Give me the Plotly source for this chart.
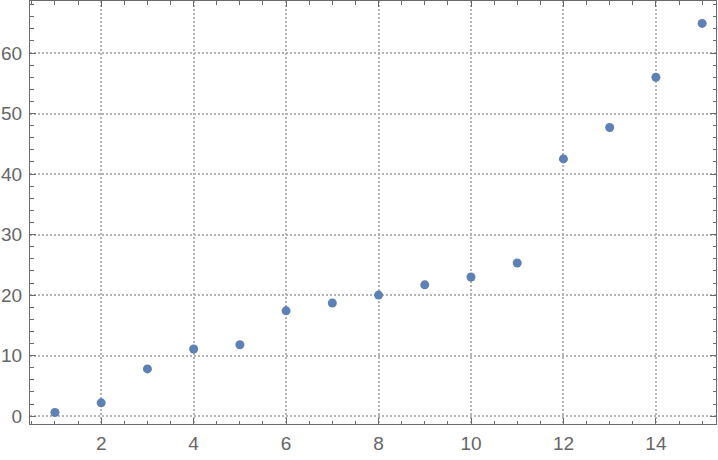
import plotly.graph_objects as go

x_values = list(range(1, 16))
y_values = [0.6, 2.2, 7.8, 11.1, 11.8, 17.4, 18.7, 20.0, 21.7, 23.0, 25.3, 42.5, 47.7, 56.0, 64.9]

frame = "#6b6b6b"
grid = "#b4b4b4"

fig = go.Figure(go.Scatter(
    x=x_values, y=y_values, mode="markers",
    marker=dict(color="#5e81b5", size=9, line=dict(width=0)),
))

common = dict(
    showline=True, linecolor=frame, linewidth=1, mirror="ticks",
    ticks="inside", ticklen=6, tickwidth=1, tickcolor=frame,
    showgrid=True, gridcolor=grid, gridwidth=1.6, griddash="2px,2px",
    zeroline=False, automargin=False,
    tickfont=dict(family="Liberation Sans, Arial, sans-serif", size=19, color="#666666"),
)

fig.update_xaxes(range=[0.46, 15.3], tick0=0, dtick=2, ticklabelstandoff=2,
                 minor=dict(dtick=0.5, ticks="inside", ticklen=3.5, tickcolor=frame, showgrid=False),
                 **common)
fig.update_yaxes(range=[-1.3, 68.6], tick0=0, dtick=10, ticklabelstandoff=3,
                 minor=dict(dtick=2, ticks="inside", ticklen=3.5, tickcolor=frame, showgrid=False),
                 **common)

fig.update_layout(
    width=718, height=460,
    margin=dict(l=30, r=2, t=1, b=36),
    plot_bgcolor="white", paper_bgcolor="white",
    showlegend=False,
)

fig.write_html("out.html", config={"displayModeBar": False},
               post_script="document.body.style.margin='0';document.body.style.overflow='hidden';")
